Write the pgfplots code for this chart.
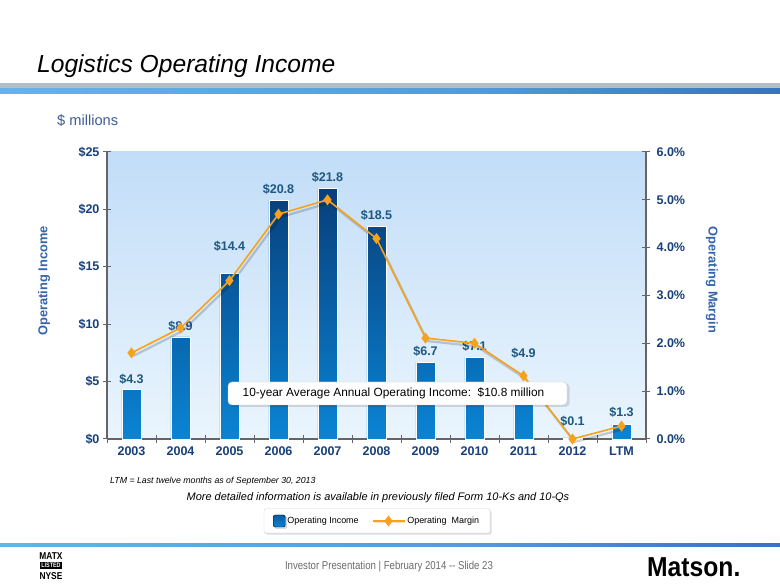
\documentclass[border=0pt]{standalone}
\usepackage{pgfplots}
\pgfplotsset{compat=1.18}
\usepackage{fontspec}
\setmainfont{Liberation Sans}
\newfontfamily\narrowfont[FakeStretch=0.84]{Liberation Sans}
\newfontfamily\logofont[FakeStretch=0.9]{Liberation Sans}
\usetikzlibrary{shadows}
\definecolor{navy}{RGB}{23,64,124}
\definecolor{lblteal}{RGB}{28,88,128}
\definecolor{axtitle}{RGB}{52,100,170}
\definecolor{barTop}{RGB}{8,62,122}
\definecolor{barBot}{RGB}{10,132,212}
\definecolor{bgTop}{RGB}{194,221,248}
\definecolor{bgBot}{RGB}{234,245,253}
\definecolor{orangeL}{RGB}{247,162,28}
\definecolor{subblue}{RGB}{62,92,152}
\definecolor{axgray}{RGB}{100,100,105}
\definecolor{cA}{RGB}{20,55,160}
\definecolor{cB}{RGB}{105,195,242}
\definecolor{cC}{RGB}{85,155,215}
\definecolor{cD}{RGB}{25,60,165}
\definecolor{titlegray}{RGB}{178,190,196}
\pgfdeclarehorizontalshading{bluebar}{100bp}{color(0bp)=(cA); color(9bp)=(cB); color(55bp)=(cC); color(100bp)=(cD)}
\pgfplotsset{/pgf/number format/assume math mode=true}
\pgfplotstableread{
x inc
0 4.3
1 8.9
2 14.4
3 20.8
4 21.8
5 18.5
6 6.7
7 7.1
8 4.9
9 0.1
10 1.3
}\income
\pgfplotstableread{
x ly lbl
0 5.23 4.3
1 9.84 8.9
2 16.81 14.4
3 21.78 20.8
4 22.82 21.8
5 19.51 18.5
6 7.67 6.7
7 8.10 7.1
8 7.49 4.9
9 1.57 0.1
10 2.35 1.3
}\labels
\pgfplotstableread{
x mar
0 1.80
1 2.32
2 3.31
3 4.70
4 5.00
5 4.19
6 2.11
7 2.00
8 1.32
9 0.00
10 0.27
}\margin
\begin{document}
\begin{tikzpicture}[x=1bp,y=1bp]
\fill[white] (0,0) rectangle (780,585);
\useasboundingbox (0,0) rectangle (780,585);
% title
\node[anchor=base west, inner sep=0pt, font=\fontsize{24.7}{28}\selectfont\itshape] at (37,512.3) {Logistics Operating Income};
\fill[titlegray] (0,497.3) rectangle (780,501.7);
\shade[shading=bluebar] (0,491.7) rectangle (780,496);
\node[anchor=base west, inner sep=0pt, text=subblue, font=\fontsize{14.7}{17}\selectfont] at (57,459.3) {\$ millions};
% axis titles
\node[rotate=90, text=axtitle, font=\fontsize{12.9}{15}\selectfont\bfseries] at (44,304) {Operating Income};
\node[rotate=-90, text=axtitle, font=\fontsize{12.9}{15}\selectfont\bfseries] at (712,305) {Operating Margin};
\begin{axis}[
  at={(107bp,146bp)}, anchor=south west,
  scale only axis, width=539bp, height=287bp,
  xmin=-0.5, xmax=10.5, ymin=0, ymax=25,
  axis x line*=bottom, axis y line*=left,
  x axis line style={-}, y axis line style={-},
  axis line style={draw=axgray, line width=1.1bp},
  xtick={0,...,10},
  xticklabels={2003,2004,2005,2006,2007,2008,2009,2010,2011,2012,LTM},
  major x tick style={draw=none},
  minor xtick={-0.5,0.5,...,10.5},
  minor tick length=8bp,
  ytick={0,5,...,25},
  major tick length=8bp,
  tick align=center,
  tick style={draw=axgray, line width=1bp},
  yticklabel={\$\pgfmathprintnumber{\tick}},
  ticklabel style={font=\fontsize{12.6}{14}\selectfont\bfseries, text=navy},
  axis background/.style={top color=bgTop, bottom color=bgBot},
  clip=false,
]
\addplot[ybar, bar width=0.39, draw=white, line width=0.6bp, top color=barTop, bottom color=barBot] table[x=x, y=inc] {\income};
\addplot[draw=none, mark=none, nodes near coords={\$\pgfplotspointmeta}, point meta=explicit symbolic,
  every node near coord/.style={anchor=center, inner sep=0pt, font=\fontsize{12.6}{14}\selectfont\bfseries, text=lblteal}]
  table[x=x, y=ly, meta=lbl] {\labels};
\end{axis}
\begin{axis}[
  at={(107bp,146bp)}, anchor=south west,
  scale only axis, width=539bp, height=287bp,
  xmin=-0.5, xmax=10.5, ymin=0, ymax=6,
  axis x line=none, axis y line*=right,
  y axis line style={-, draw=axgray, line width=1.1bp},
  ytick={0,1,...,6},
  major tick length=8bp,
  tick align=center,
  tick style={draw=axgray, line width=1bp},
  yticklabel={\pgfmathprintnumber[fixed,fixed zerofill,precision=1]{\tick}\%},
  yticklabel style={xshift=3bp},
  ticklabel style={font=\fontsize{12.6}{14}\selectfont\bfseries, text=navy},
  clip=false,
  legend columns=2,
  legend style={at={(0.501,-0.2857)}, anchor=center, draw=gray!35, fill=white,
    rounded corners=2bp, drop shadow={opacity=0.25, shadow xshift=1.5bp, shadow yshift=-1.5bp},
    font=\fontsize{9}{10}\selectfont, inner xsep=9bp, inner ysep=6bp,
    /tikz/every even column/.append style={column sep=11bp}},
]
\addlegendimage{legend image code/.code={\shade[top color=barTop!55!barBot, bottom color=barBot] (0bp,-6bp) rectangle (12bp,6bp);}}
\addlegendentry{Operating Income}
\addplot[forget plot, black, opacity=0.18, line width=2.2bp, xshift=2bp, yshift=-3bp] table[x=x, y=mar] {\margin};
\addplot[orangeL, line width=1.6bp, mark=diamond*, mark size=4.2bp, mark options={fill=orangeL, draw=orangeL},
  legend image code/.code={\draw[mark repeat=2, mark phase=2] plot coordinates {(0bp,0bp) (16bp,0bp) (32bp,0bp)};}] table[x=x, y=mar] {\margin};
\addlegendentry{Operating\ \ Margin}
\end{axis}
% callout
\fill[black, opacity=0.12, rounded corners=4bp] (230,178) rectangle (569.5,201.5);
\draw[gray!40, fill=white, rounded corners=4bp] (228,180) rectangle (567,203);
\node[font=\fontsize{11.9}{14}\selectfont] at (393.5,191.5) {10-year Average Annual Operating Income:\ \ \$10.8 million};
% footnotes
\node[anchor=west, inner sep=0pt, font=\fontsize{8.8}{10}\selectfont\itshape] at (110,104) {LTM = Last twelve months as of September 30, 2013};
\node[inner sep=0pt, font=\fontsize{11}{13}\selectfont\itshape] at (378,87) {More detailed information is available in previously filed Form 10-Ks and 10-Qs};
% footer
\shade[shading=bluebar] (0,38) rectangle (780,41.5);
\node[text=gray!85!black, font=\narrowfont\fontsize{11.5}{13}\selectfont] at (389,18) {Investor Presentation\ \textbar\ February 2014 -- Slide 23};
\node[anchor=base west, inner sep=0pt, font=\logofont\fontsize{27.5}{30}\selectfont\bfseries] at (647,8.5) {Matson.};
\node[font=\narrowfont\fontsize{10}{11}\selectfont\bfseries, inner sep=0pt] at (51,29) {MATX};
\node[fill=black, text=white, font=\narrowfont\fontsize{6.5}{7}\selectfont\bfseries, inner sep=1bp] at (51,19.5) {LISTED};
\node[font=\narrowfont\fontsize{10}{11}\selectfont\bfseries, inner sep=0pt] at (51,9) {NYSE};
\end{tikzpicture}
\end{document}
